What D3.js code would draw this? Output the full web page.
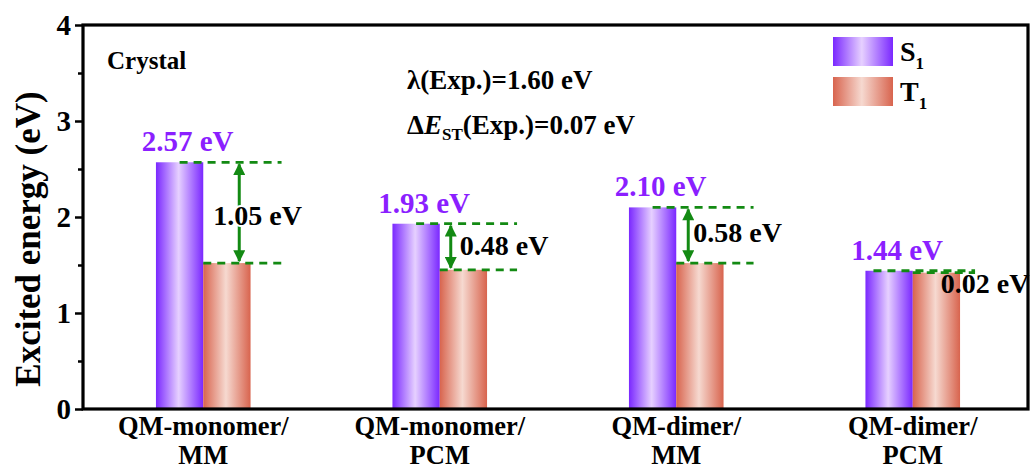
<!DOCTYPE html>
<html>
<head>
<meta charset="utf-8">
<script src="https://cdn.jsdelivr.net/npm/d3@7"></script>
<style>
  body { margin: 0; background: #fff; }
</style>
</head>
<body>
<div id="chart"></div>
<script>
const categories = [['QM-monomer/', 'MM'], ['QM-monomer/', 'PCM'], ['QM-dimer/', 'MM'], ['QM-dimer/', 'PCM']];
const series = ['S1', 'T1'];
const s1Values = [2.57, 1.93, 2.10, 1.44];
const t1Values = [1.52, 1.45, 1.52, 1.42];
const gapLabels = ['1.05 eV', '0.48 eV', '0.58 eV', '0.02 eV'];
const yTicks = [0, 1, 2, 3, 4];

const width = 1032;
const height = 471;
const margin = { left: 83, right: 4, top: 25, bottom: 62 };
const GREEN = '#138a13';
const PURPLE = '#8b1fff';
const FONT = 'Liberation Serif';

// layout tweaks for the annotations, per group
const arrowDx = [36, 11, 12, null];
const labelDx = [10, 20, 17, 28];
const labelDy = [12, 8, 7, 20];
const dashExtra = [31, 30, 30, 15];

const svg = d3.select('#chart').append('svg')
  .attr('width', width).attr('height', height);

const defs = svg.append('defs');
const addGrad = (id, edge, mid) => {
  const g = defs.append('linearGradient').attr('id', id)
    .attr('x1', '0%').attr('x2', '100%').attr('y1', '0%').attr('y2', '0%');
  g.append('stop').attr('offset', '0%').attr('stop-color', edge);
  g.append('stop').attr('offset', '48%').attr('stop-color', mid);
  g.append('stop').attr('offset', '100%').attr('stop-color', edge);
};
addGrad('gS1', '#7a28ff', '#e6d0ff');
addGrad('gT1', '#d8644e', '#f6d9d0');

defs.append('marker').attr('id', 'arr')
  .attr('viewBox', '0 0 10 10').attr('refX', 9).attr('refY', 5)
  .attr('markerWidth', 4.5).attr('markerHeight', 4)
  .attr('markerUnits', 'strokeWidth')
  .attr('orient', 'auto-start-reverse')
  .append('path').attr('d', 'M0,0 L10,5 L0,10 z').attr('fill', GREEN);

const x = d3.scaleBand()
  .domain(d3.range(categories.length))
  .range([margin.left + 2, width + 1 - margin.right + 2])
  .paddingInner(0.6).paddingOuter(0.3);
const xs = d3.scaleBand().domain(series).range([0, x.bandwidth()]);
const y = d3.scaleLinear().domain([0, 4]).range([height - margin.bottom, margin.top]);

const data = categories.map((c, i) => ({ i, s1: s1Values[i], t1: t1Values[i] }));

// bars
const g = svg.append('g');
data.forEach((d) => {
  g.append('rect')
    .attr('x', x(d.i) + xs('S1')).attr('width', xs.bandwidth())
    .attr('y', y(d.s1)).attr('height', y(0) - y(d.s1))
    .attr('fill', 'url(#gS1)');
  g.append('rect')
    .attr('x', x(d.i) + xs('T1')).attr('width', xs.bandwidth())
    .attr('y', y(d.t1)).attr('height', y(0) - y(d.t1))
    .attr('fill', 'url(#gT1)');
});

// annotations
data.forEach((d) => {
  const x0 = x(d.i);
  const center = x0 + xs('T1');
  const end = x0 + x.bandwidth() + dashExtra[d.i];
  const dashStart = d.i === 3 ? x0 + 8 : x0 + xs.bandwidth() / 2;
  g.append('line')
    .attr('x1', dashStart).attr('x2', end)
    .attr('y1', y(d.s1)).attr('y2', y(d.s1))
    .attr('stroke', GREEN).attr('stroke-width', 2.8).attr('stroke-dasharray', '8,6');
  g.append('line')
    .attr('x1', center).attr('x2', end)
    .attr('y1', y(d.t1)).attr('y2', y(d.t1))
    .attr('stroke', GREEN).attr('stroke-width', 2.8).attr('stroke-dasharray', '8,6');
  if (arrowDx[d.i] !== null) {
    g.append('line')
      .attr('x1', center + arrowDx[d.i]).attr('x2', center + arrowDx[d.i])
      .attr('y1', y(d.s1) + 2).attr('y2', y(d.t1) - 2)
      .attr('stroke', GREEN).attr('stroke-width', 3)
      .attr('marker-start', 'url(#arr)').attr('marker-end', 'url(#arr)');
  }
  const ly = d.i === 3 ? y(d.t1) + labelDy[d.i] : (y(d.s1) + y(d.t1)) / 2 + labelDy[d.i];
  g.append('text')
    .attr('x', center + labelDx[d.i]).attr('y', ly)
    .attr('font-size', 28).attr('fill', '#000')
    .attr('stroke', d.i === 0 ? '#fff' : 'none').attr('stroke-width', 4)
    .attr('paint-order', 'stroke')
    .text(gapLabels[d.i]);
  g.append('text')
    .attr('x', x0 + xs.bandwidth() / 2 + 8).attr('y', y(d.s1) - 11)
    .attr('text-anchor', 'middle').attr('font-size', 29).attr('fill', PURPLE)
    .text(`${d.s1.toFixed(2)} eV`);
});

// axes
const yAxis = svg.append('g')
  .attr('transform', `translate(${margin.left},0)`)
  .call(d3.axisLeft(y).tickValues(yTicks).tickSize(8).tickPadding(4).tickFormat(d3.format('d')));
yAxis.selectAll('text').attr('font-size', 29).attr('fill', '#000');
yAxis.select('.domain').remove();
svg.append('g')
  .attr('transform', `translate(${margin.left},0)`)
  .call(d3.axisLeft(y).tickValues([0.5, 1.5, 2.5, 3.5]).tickSize(5).tickFormat(''))
  .select('.domain').remove();
svg.selectAll('.tick line').attr('stroke', '#000').attr('stroke-width', 2.5);

// frame
svg.append('rect')
  .attr('x', margin.left).attr('y', margin.top)
  .attr('width', width - margin.right - margin.left)
  .attr('height', y(0) - margin.top)
  .attr('fill', 'none').attr('stroke', '#000').attr('stroke-width', 3.2);

// x labels
categories.forEach((c, i) => {
  const t = svg.append('text')
    .attr('x', x(i) + x.bandwidth() / 2).attr('y', 435)
    .attr('text-anchor', 'middle').attr('font-size', 26.5);
  t.append('tspan').text(c[0]);
  t.append('tspan').attr('x', x(i) + x.bandwidth() / 2).attr('dy', 29).text(c[1]);
});

svg.append('text')
  .attr('transform', `translate(40,${(y(0) + y(4)) / 2 + 22}) rotate(-90)`)
  .attr('text-anchor', 'middle').attr('font-size', 35)
  .text('Excited energy (eV)');

svg.append('text').attr('x', 107).attr('y', 69).attr('font-size', 25).text('Crystal');
svg.append('text').attr('x', 407).attr('y', 89).attr('font-size', 27).text('λ(Exp.)=1.60 eV');
const dt = svg.append('text').attr('x', 407).attr('y', 134).attr('font-size', 27);
dt.append('tspan').text('Δ');
dt.append('tspan').attr('font-style', 'italic').text('E');
dt.append('tspan').attr('font-size', 17).attr('dy', 6).text('ST');
dt.append('tspan').attr('dy', -6).text('(Exp.)=0.07 eV');

// legend
const legend = svg.append('g');
series.forEach((s, i) => {
  const ly = 37 + i * 40;
  legend.append('rect')
    .attr('x', 833).attr('y', ly).attr('width', 60).attr('height', 29)
    .attr('fill', `url(#g${s})`);
  const t = legend.append('text').attr('x', 900).attr('y', ly + 24).attr('font-size', 28);
  t.append('tspan').text(s[0]);
  t.append('tspan').attr('font-size', 17).attr('dy', 8).text(s[1]);
});

svg.selectAll('text').style('font-family', FONT).style('font-weight', 'bold');
</script>
</body>
</html>
